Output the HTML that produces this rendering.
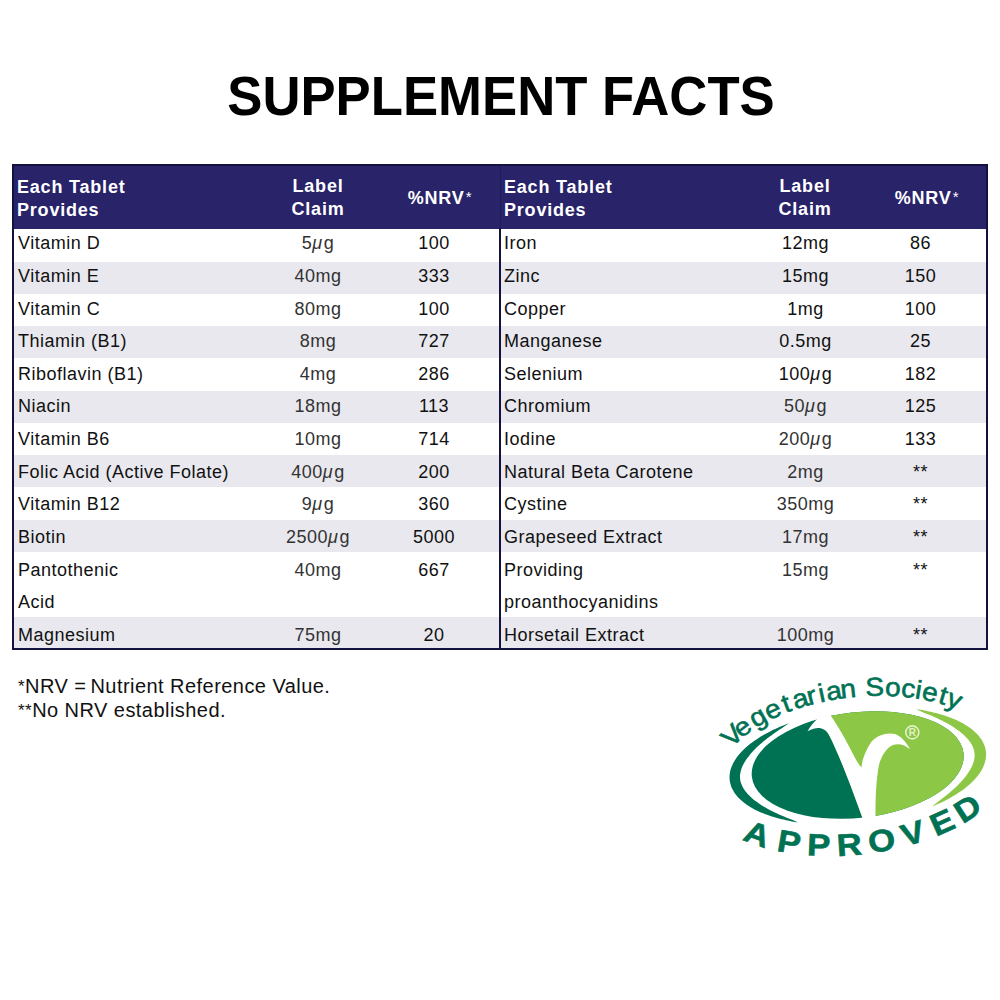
<!DOCTYPE html>
<html><head><meta charset="utf-8">
<style>
html,body{margin:0;padding:0;background:#fff;}
body{width:1000px;height:1000px;position:relative;overflow:hidden;font-family:"Liberation Sans",sans-serif;}
.title{position:absolute;left:1px;width:1000px;top:60.8px;text-align:center;font-weight:bold;font-size:55px;line-height:70px;color:#000;letter-spacing:0px;transform:scaleX(0.958);}
.tbl{position:absolute;left:12px;top:164px;width:976px;height:486px;box-sizing:border-box;border:2px solid #13113d;}
.hdr{position:absolute;left:12px;top:164px;width:976px;height:65px;background:#29236a;}
.div{position:absolute;left:499px;top:228px;width:2px;height:422px;background:#13113d;}
.divh{position:absolute;left:499.5px;top:164px;width:1px;height:65px;background:#201a5a;}
.st{position:absolute;width:485px;background:#e8e8ee;}
.t{position:absolute;font-size:18px;line-height:32.625px;white-space:nowrap;color:#111;letter-spacing:0.5px;}
.cl,.nr{width:200px;text-align:center;}
.cl{color:#333;}
.style2{color:#111;}
.t i{font-style:italic;margin-right:1px;}
.h{position:absolute;font-size:18px;font-weight:bold;color:#fff;line-height:23px;white-space:nowrap;letter-spacing:0.8px;}
.hc{width:200px;text-align:center;}
.h sup{font-weight:normal;font-size:15px;vertical-align:top;position:relative;top:-2px;margin-left:1px;}
.foot{position:absolute;left:18px;top:675px;font-size:20px;line-height:23px;color:#111;letter-spacing:0.45px;}
.ast{font-size:17px;position:relative;top:-1px;}
</style></head><body>
<div class="title">SUPPLEMENT FACTS</div>
<div class="hdr"></div>
<div class="divh"></div>
<div class="h" style="left:17px;top:175.5px">Each Tablet<br>Provides</div>
<div class="h hc" style="left:218px;top:175px">Label<br>Claim</div>
<div class="h hc" style="left:340px;top:187px">%NRV<sup>*</sup></div>
<div class="h" style="left:504px;top:175.5px">Each Tablet<br>Provides</div>
<div class="h hc" style="left:705px;top:175px">Label<br>Claim</div>
<div class="h hc" style="left:827px;top:187px">%NRV<sup>*</sup></div>
<div class="t nm" style="left:18px;top:227.25px">Vitamin D</div>
<div class="t cl" style="left:218px;top:227.25px">5<i>μ</i>g</div>
<div class="t nr" style="left:334px;top:227.25px">100</div>
<div class="st" style="left:14px;top:261.77px;height:31.87px"></div>
<div class="t nm" style="left:18px;top:259.88px">Vitamin E</div>
<div class="t cl" style="left:218px;top:259.88px">40mg</div>
<div class="t nr" style="left:334px;top:259.88px">333</div>
<div class="t nm" style="left:18px;top:292.50px">Vitamin C</div>
<div class="t cl" style="left:218px;top:292.50px">80mg</div>
<div class="t nr" style="left:334px;top:292.50px">100</div>
<div class="st" style="left:14px;top:326.31px;height:31.87px"></div>
<div class="t nm" style="left:18px;top:325.13px">Thiamin (B1)</div>
<div class="t cl" style="left:218px;top:325.13px">8mg</div>
<div class="t nr" style="left:334px;top:325.13px">727</div>
<div class="t nm" style="left:18px;top:357.75px">Riboflavin (B1)</div>
<div class="t cl" style="left:218px;top:357.75px">4mg</div>
<div class="t nr" style="left:334px;top:357.75px">286</div>
<div class="st" style="left:14px;top:390.85px;height:31.87px"></div>
<div class="t nm" style="left:18px;top:390.38px">Niacin</div>
<div class="t cl" style="left:218px;top:390.38px">18mg</div>
<div class="t nr" style="left:334px;top:390.38px">113</div>
<div class="t nm" style="left:18px;top:423.00px">Vitamin B6</div>
<div class="t cl" style="left:218px;top:423.00px">10mg</div>
<div class="t nr" style="left:334px;top:423.00px">714</div>
<div class="st" style="left:14px;top:455.39px;height:31.87px"></div>
<div class="t nm" style="left:18px;top:455.63px">Folic Acid (Active Folate)</div>
<div class="t cl" style="left:218px;top:455.63px">400<i>μ</i>g</div>
<div class="t nr" style="left:334px;top:455.63px">200</div>
<div class="t nm" style="left:18px;top:488.25px">Vitamin B12</div>
<div class="t cl" style="left:218px;top:488.25px">9<i>μ</i>g</div>
<div class="t nr" style="left:334px;top:488.25px">360</div>
<div class="st" style="left:14px;top:519.93px;height:31.87px"></div>
<div class="t nm" style="left:18px;top:520.88px">Biotin</div>
<div class="t cl" style="left:218px;top:520.88px">2500<i>μ</i>g</div>
<div class="t nr" style="left:334px;top:520.88px">5000</div>
<div class="t nm" style="left:18px;top:553.50px">Pantothenic<br>Acid</div>
<div class="t cl" style="left:218px;top:553.50px">40mg</div>
<div class="t nr" style="left:334px;top:553.50px">667</div>
<div class="st" style="left:14px;top:616.74px;height:31.87px"></div>
<div class="t nm" style="left:18px;top:618.75px">Magnesium</div>
<div class="t cl" style="left:218px;top:618.75px">75mg</div>
<div class="t nr" style="left:334px;top:618.75px">20</div>
<div class="t nm" style="left:504px;top:227.25px">Iron</div>
<div class="t cl style2" style="left:705.5px;top:227.25px">12mg</div>
<div class="t nr" style="left:820.5px;top:227.25px">86</div>
<div class="st" style="left:501px;top:261.77px;height:31.87px"></div>
<div class="t nm" style="left:504px;top:259.88px">Zinc</div>
<div class="t cl style2" style="left:705.5px;top:259.88px">15mg</div>
<div class="t nr" style="left:820.5px;top:259.88px">150</div>
<div class="t nm" style="left:504px;top:292.50px">Copper</div>
<div class="t cl style2" style="left:705.5px;top:292.50px">1mg</div>
<div class="t nr" style="left:820.5px;top:292.50px">100</div>
<div class="st" style="left:501px;top:326.31px;height:31.87px"></div>
<div class="t nm" style="left:504px;top:325.13px">Manganese</div>
<div class="t cl style2" style="left:705.5px;top:325.13px">0.5mg</div>
<div class="t nr" style="left:820.5px;top:325.13px">25</div>
<div class="t nm" style="left:504px;top:357.75px">Selenium</div>
<div class="t cl style2" style="left:705.5px;top:357.75px">100<i>μ</i>g</div>
<div class="t nr" style="left:820.5px;top:357.75px">182</div>
<div class="st" style="left:501px;top:390.85px;height:31.87px"></div>
<div class="t nm" style="left:504px;top:390.38px">Chromium</div>
<div class="t cl" style="left:705.5px;top:390.38px">50<i>μ</i>g</div>
<div class="t nr" style="left:820.5px;top:390.38px">125</div>
<div class="t nm" style="left:504px;top:423.00px">Iodine</div>
<div class="t cl" style="left:705.5px;top:423.00px">200<i>μ</i>g</div>
<div class="t nr" style="left:820.5px;top:423.00px">133</div>
<div class="st" style="left:501px;top:455.39px;height:31.87px"></div>
<div class="t nm" style="left:504px;top:455.63px">Natural Beta Carotene</div>
<div class="t cl" style="left:705.5px;top:455.63px">2mg</div>
<div class="t nr" style="left:820.5px;top:455.63px">**</div>
<div class="t nm" style="left:504px;top:488.25px">Cystine</div>
<div class="t cl" style="left:705.5px;top:488.25px">350mg</div>
<div class="t nr" style="left:820.5px;top:488.25px">**</div>
<div class="st" style="left:501px;top:519.93px;height:31.87px"></div>
<div class="t nm" style="left:504px;top:520.88px">Grapeseed Extract</div>
<div class="t cl" style="left:705.5px;top:520.88px">17mg</div>
<div class="t nr" style="left:820.5px;top:520.88px">**</div>
<div class="t nm" style="left:504px;top:553.50px">Providing<br>proanthocyanidins</div>
<div class="t cl" style="left:705.5px;top:553.50px">15mg</div>
<div class="t nr" style="left:820.5px;top:553.50px">**</div>
<div class="st" style="left:501px;top:616.74px;height:31.87px"></div>
<div class="t nm" style="left:504px;top:618.75px">Horsetail Extract</div>
<div class="t cl" style="left:705.5px;top:618.75px">100mg</div>
<div class="t nr" style="left:820.5px;top:618.75px">**</div>
<div class="tbl"></div>
<div class="div"></div>
<div class="foot"><span class="ast">*</span>NRV =<span style="margin-left:-2px"> </span>Nutrient Reference Value.<br><span class="ast">**</span>No NRV established.</div>
<svg style="position:absolute;left:0;top:0" width="1000" height="1000" viewBox="0 0 1000 1000">
<defs>
<clipPath id="ie"><ellipse cx="0" cy="0" rx="106.5" ry="52.8" transform="translate(857.7,765.0) rotate(-6.34)"/></clipPath>
</defs>
<path d="M797.8 822.4 L794.8 821.9 L791.9 821.4 L789.0 820.8 L786.2 820.3 L783.4 819.6 L780.6 819.0 L778.0 818.3 L775.3 817.5 L772.8 816.8 L770.3 816.0 L767.8 815.1 L765.4 814.2 L763.1 813.3 L760.9 812.4 L758.7 811.4 L756.6 810.4 L754.5 809.4 L752.5 808.3 L750.6 807.2 L748.8 806.1 L747.1 804.9 L745.4 803.7 L743.8 802.5 L742.3 801.3 L740.9 800.0 L739.5 798.8 L738.2 797.4 L737.0 796.1 L735.9 794.8 L734.9 793.4 L734.0 792.0 L733.2 790.6 L732.4 789.2 L731.7 787.7 L731.1 786.3 L730.7 784.8 L730.3 783.3 L729.9 781.8 L729.7 780.3 L729.6 778.8 L729.5 777.3 L729.6 775.8 L729.7 774.2 L729.9 772.7 L730.2 771.1 L730.6 769.6 L731.1 768.0 L731.7 766.4 L732.4 764.9 L733.1 763.3 L734.0 761.8 L734.9 760.2 L735.9 758.7 L737.0 757.1 L738.2 755.6 L739.4 754.1 L740.8 752.5 L742.2 751.0 L743.7 749.5 L745.3 748.0 L747.0 746.6 L748.7 745.1 L750.6 743.6 L752.5 742.2 L754.4 740.8 L756.5 739.4 L758.6 738.0 L760.8 736.6 L763.0 735.3 L765.3 734.0 L767.7 732.7 L770.2 731.4 L772.7 730.1 L775.2 728.9 L777.9 727.7 L780.5 726.5 L783.3 725.4 L786.1 724.3 L788.9 723.2 L788.9 723.2 L786.4 725.1 L783.9 726.8 L781.4 728.5 L778.9 730.1 L776.5 731.7 L774.2 733.3 L772.0 734.9 L769.8 736.5 L767.7 738.1 L765.6 739.7 L763.6 741.3 L761.7 742.9 L759.9 744.5 L758.2 746.1 L756.5 747.6 L754.9 749.2 L753.4 750.8 L752.0 752.3 L750.6 753.8 L749.4 755.4 L748.2 756.9 L747.1 758.3 L746.1 759.8 L745.2 761.2 L744.4 762.6 L743.6 763.9 L742.9 765.3 L742.3 766.5 L741.8 767.8 L741.4 769.0 L741.0 770.2 L740.7 771.3 L740.5 772.4 L740.3 773.4 L740.1 774.4 L740.0 775.4 L740.0 776.4 L740.0 777.3 L740.1 778.2 L740.1 779.1 L740.3 780.0 L740.4 780.9 L740.6 781.8 L740.9 782.7 L741.2 783.6 L741.6 784.6 L742.0 785.6 L742.5 786.6 L743.1 787.7 L743.7 788.7 L744.4 789.8 L745.2 790.9 L746.1 792.1 L747.1 793.2 L748.1 794.4 L749.3 795.6 L750.5 796.8 L751.8 798.0 L753.2 799.2 L754.7 800.4 L756.3 801.6 L758.0 802.8 L759.7 804.0 L761.5 805.2 L763.5 806.4 L765.5 807.6 L767.5 808.7 L769.7 809.9 L771.9 811.0 L774.2 812.2 L776.6 813.3 L779.0 814.4 L781.5 815.5 L784.1 816.6 L786.7 817.7 L789.4 818.7 L792.2 819.8 L795.0 821.0 L797.8 822.4Z" fill="#007254"/>
<path d="M916.3 709.2 L919.2 709.6 L922.1 710.1 L924.9 710.6 L927.8 711.2 L930.5 711.8 L933.2 712.4 L935.9 713.1 L938.5 713.8 L941.1 714.5 L943.6 715.3 L946.0 716.1 L948.4 716.9 L950.7 717.8 L953.0 718.7 L955.2 719.6 L957.3 720.6 L959.4 721.5 L961.3 722.6 L963.3 723.6 L965.1 724.7 L966.9 725.8 L968.6 726.9 L970.3 728.1 L971.8 729.3 L973.3 730.5 L974.7 731.7 L976.0 733.0 L977.3 734.3 L978.5 735.6 L979.5 736.9 L980.5 738.2 L981.5 739.6 L982.3 741.0 L983.1 742.4 L983.7 743.8 L984.3 745.2 L984.8 746.6 L985.3 748.1 L985.6 749.5 L985.8 751.0 L986.0 752.5 L986.1 754.0 L986.1 755.5 L986.0 757.0 L985.8 758.5 L985.5 760.0 L985.1 761.5 L984.7 763.1 L984.2 764.6 L983.6 766.1 L982.9 767.7 L982.1 769.2 L981.2 770.7 L980.3 772.2 L979.3 773.7 L978.2 775.3 L977.0 776.8 L975.7 778.3 L974.4 779.7 L972.9 781.2 L971.4 782.7 L969.8 784.2 L968.2 785.6 L966.5 787.0 L964.7 788.5 L962.8 789.9 L960.8 791.3 L958.8 792.6 L956.7 794.0 L954.6 795.3 L952.4 796.6 L950.1 797.9 L947.8 799.2 L945.4 800.4 L942.9 801.7 L940.4 802.9 L937.8 804.0 L935.2 805.2 L932.5 806.3 L932.5 806.3 L934.8 804.2 L937.1 802.4 L939.4 800.7 L941.6 799.0 L943.8 797.3 L945.9 795.7 L947.9 794.0 L949.9 792.4 L951.8 790.8 L953.7 789.1 L955.4 787.5 L957.1 785.9 L958.7 784.3 L960.2 782.7 L961.7 781.1 L963.1 779.6 L964.4 778.0 L965.6 776.5 L966.7 775.0 L967.7 773.6 L968.7 772.1 L969.6 770.7 L970.4 769.3 L971.1 768.0 L971.7 766.7 L972.3 765.4 L972.8 764.2 L973.2 763.0 L973.6 761.9 L973.9 760.8 L974.1 759.7 L974.3 758.7 L974.5 757.8 L974.5 756.8 L974.6 755.9 L974.6 755.1 L974.6 754.2 L974.5 753.4 L974.4 752.6 L974.3 751.8 L974.2 750.9 L974.0 750.1 L973.7 749.2 L973.4 748.4 L973.1 747.5 L972.7 746.5 L972.2 745.6 L971.7 744.6 L971.1 743.6 L970.4 742.5 L969.6 741.4 L968.8 740.3 L967.9 739.2 L966.9 738.1 L965.8 736.9 L964.6 735.8 L963.4 734.6 L962.0 733.4 L960.6 732.2 L959.1 731.1 L957.5 729.9 L955.8 728.7 L954.1 727.5 L952.2 726.3 L950.3 725.1 L948.3 724.0 L946.2 722.8 L944.1 721.7 L941.9 720.6 L939.6 719.4 L937.2 718.3 L934.8 717.2 L932.3 716.1 L929.8 715.0 L927.2 714.0 L924.5 712.9 L921.8 711.8 L919.0 710.6 L916.3 709.2Z" fill="#8dc746"/>
<ellipse cx="0" cy="0" rx="106.5" ry="52.8" transform="translate(857.7,765.0) rotate(-6.34)" fill="#007254"/>
<g clip-path="url(#ie)">
<path d="M829.2 690 L1000 690 L1000 840 L862.5 840 L862.5 818 C853 792 840 756 829 735 Z" fill="#8dc746"/>
</g>
<path d="M816.6 719.6 C820 716 826 712 830.6 700 L830.6 715.4 C838 726 846 740 852 752 C856 760 859 765 861.5 767.5 C862 760 866 749 872 741 C878 735 887 732 895 734 C901 736 906 742 910 749.25 C905 745 899 743 893 745 C886 748 881 757 879 765 C876 780 875.5 800 875.5 813 L875.5 830 L862.5 830 L862.5 818 C853 792 840 756 829 735 C826 730 823 728 818 728 C813 728.5 809 730 807.5 731.5 C810 727 813 723 816.6 719.6 Z" fill="#fff"/>
<circle cx="912.3" cy="732.4" r="6.5" fill="none" stroke="#e3f1c6" stroke-width="1.6"/>
<text x="912.4" y="736.2" font-family="Liberation Sans" font-size="10" font-weight="bold" text-anchor="middle" fill="#e3f1c6">R</text>
<g font-family="Liberation Sans" font-weight="normal" font-size="26" fill="#007254" stroke="#007254" stroke-width="0.6" stroke-linejoin="round"><text transform="translate(738.29,741.82) rotate(-44.33) scale(1.08,1)" y="0.0" text-anchor="middle">V</text><text transform="translate(747.36,734.02) rotate(-37.49) scale(1.08,1)" y="0.0" text-anchor="middle">e</text><text transform="translate(762.14,724.25) rotate(-29.83) scale(1.08,1)" y="0.0" text-anchor="middle">g</text><text transform="translate(776.02,717.14) rotate(-24.58) scale(1.08,1)" y="0.0" text-anchor="middle">e</text><text transform="translate(789.10,711.73) rotate(-20.55) scale(1.08,1)" y="0.0" text-anchor="middle">t</text><text transform="translate(802.83,707.09) rotate(-16.89) scale(1.08,1)" y="0.0" text-anchor="middle">a</text><text transform="translate(813.56,704.10) rotate(-14.30) scale(1.08,1)" y="0.0" text-anchor="middle">r</text><text transform="translate(823.22,701.84) rotate(-12.11) scale(1.08,1)" y="0.0" text-anchor="middle">i</text><text transform="translate(835.24,699.55) rotate(-9.50) scale(1.08,1)" y="0.0" text-anchor="middle">a</text><text transform="translate(848.98,697.61) rotate(-6.60) scale(1.08,1)" y="0.0" text-anchor="middle">n</text><text transform="translate(874.81,695.86) rotate(-1.16) scale(1.08,1)" y="0.0" text-anchor="middle">S</text><text transform="translate(892.58,696.10) rotate(2.79) scale(1.08,1)" y="0.0" text-anchor="middle">o</text><text transform="translate(907.58,697.31) rotate(6.44) scale(1.08,1)" y="0.0" text-anchor="middle">c</text><text transform="translate(917.31,698.64) rotate(9.05) scale(1.08,1)" y="0.0" text-anchor="middle">i</text><text transform="translate(928.46,700.74) rotate(12.38) scale(1.08,1)" y="0.0" text-anchor="middle">e</text><text transform="translate(940.98,703.98) rotate(16.74) scale(1.08,1)" y="0.0" text-anchor="middle">t</text><text transform="translate(951.65,707.65) rotate(21.25) scale(1.08,1)" y="0.0" text-anchor="middle">y</text></g>
<g font-family="Liberation Sans" font-weight="bold" font-size="31" fill="#007254" stroke="#007254" stroke-width="0.6"><text transform="translate(753.56,843.93) rotate(20.01) scale(1.12,1)" y="0.0" text-anchor="middle">A</text><text transform="translate(787.40,852.67) rotate(9.57) scale(1.12,1)" y="0.0" text-anchor="middle">P</text><text transform="translate(818.42,855.85) rotate(2.40) scale(1.12,1)" y="0.0" text-anchor="middle">P</text><text transform="translate(850.00,855.40) rotate(-3.93) scale(1.12,1)" y="0.0" text-anchor="middle">R</text><text transform="translate(883.54,851.18) rotate(-10.37) scale(1.12,1)" y="0.0" text-anchor="middle">O</text><text transform="translate(915.84,843.35) rotate(-16.95) scale(1.12,1)" y="0.0" text-anchor="middle">V</text><text transform="translate(946.44,831.88) rotate(-24.32) scale(1.12,1)" y="0.0" text-anchor="middle">E</text><text transform="translate(973.18,817.39) rotate(-32.96) scale(1.12,1)" y="0.0" text-anchor="middle">D</text></g>
</svg>
</body></html>
